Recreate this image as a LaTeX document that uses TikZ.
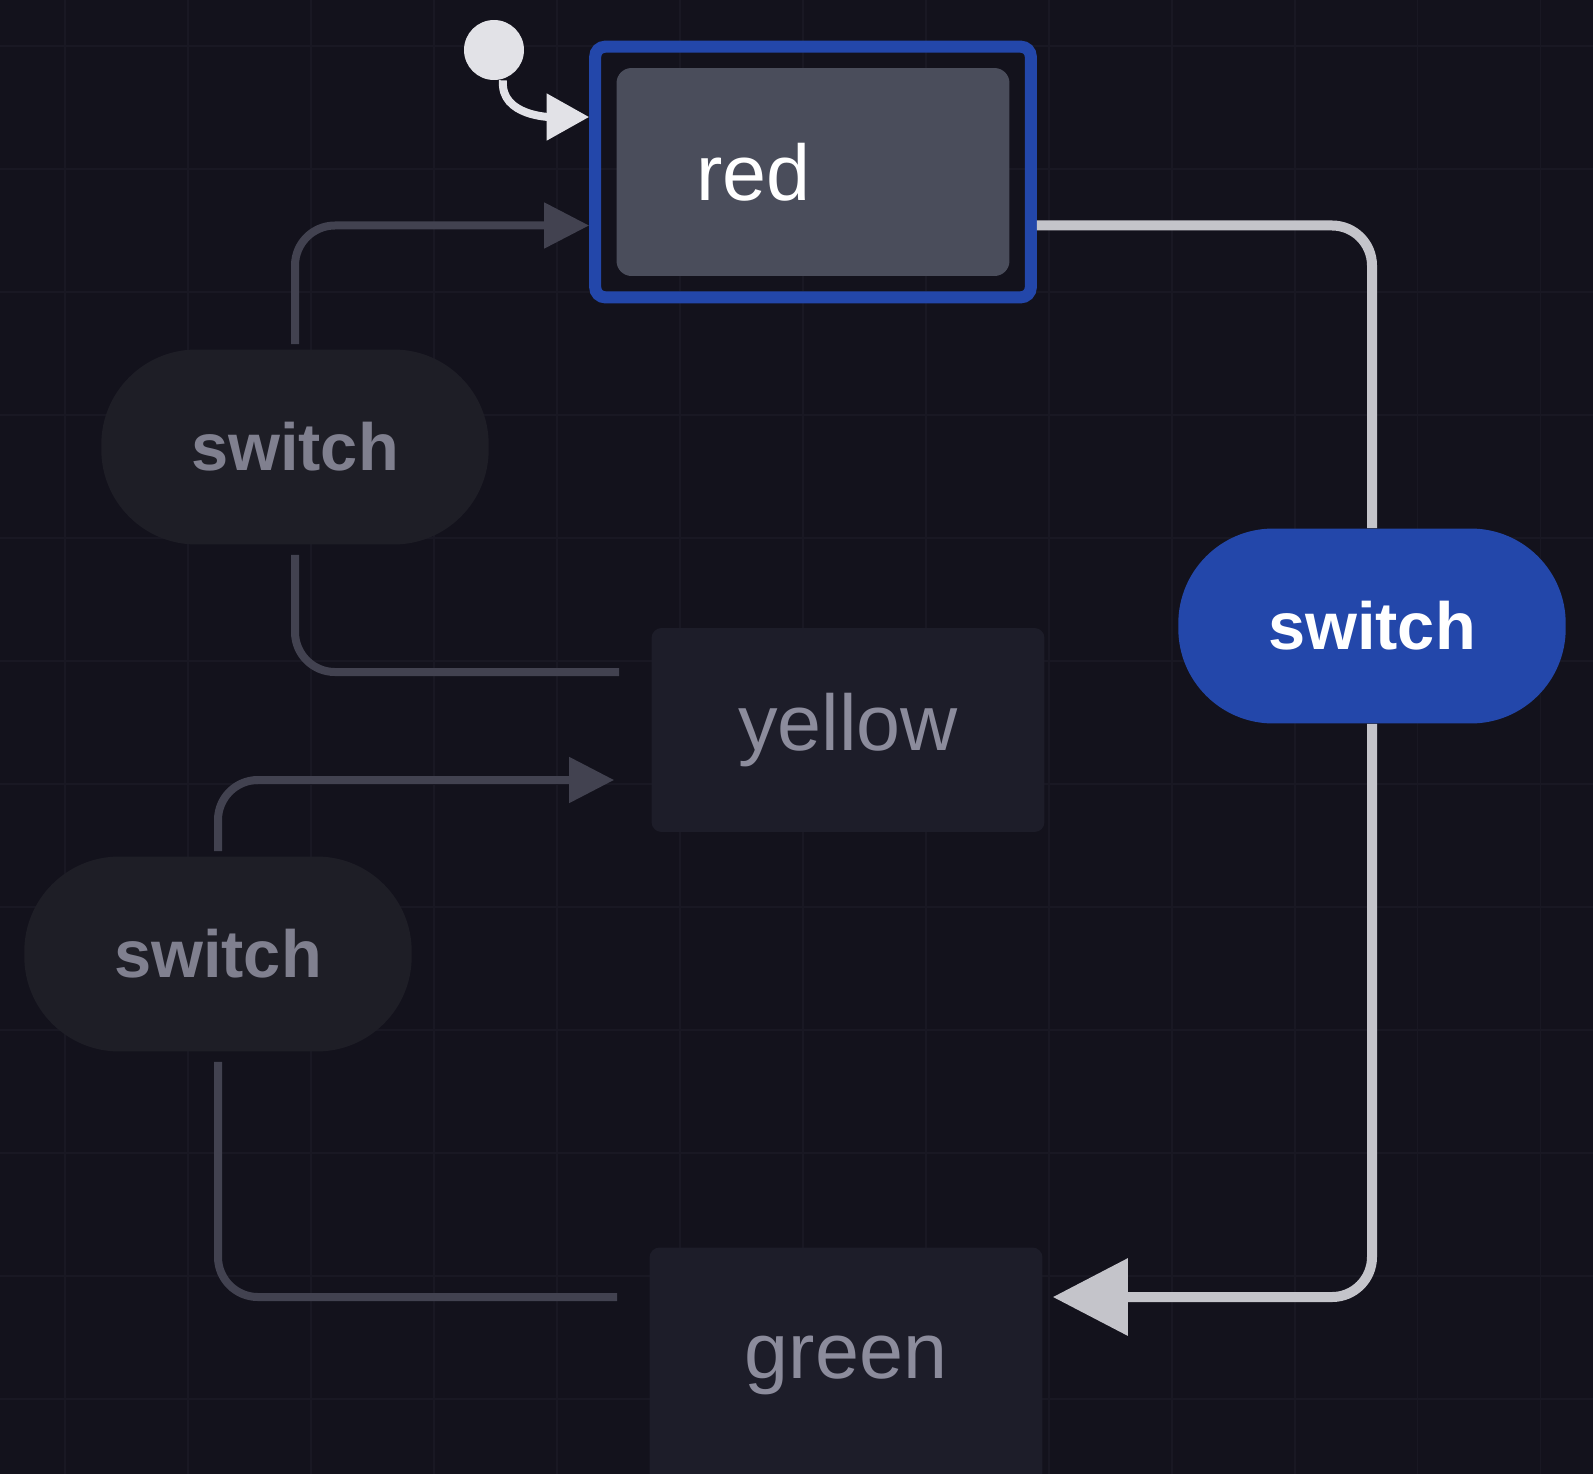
\documentclass[tikz,border=0pt]{standalone}
\usepackage{fontspec}
\setmainfont{Liberation Sans}
\usetikzlibrary{arrows.meta,positioning,fit}

\definecolor{bg}{RGB}{19,18,28}
\definecolor{gridc}{RGB}{25,24,35}
\definecolor{xblue}{RGB}{35,71,170}
\definecolor{redfill}{RGB}{74,77,91}
\definecolor{idlefill}{RGB}{29,29,41}
\definecolor{idletext}{RGB}{140,140,156}
\definecolor{eventfill}{RGB}{30,30,38}
\definecolor{eventtext}{RGB}{128,128,143}
\definecolor{liveline}{RGB}{196,196,202}
\definecolor{dimline}{RGB}{66,66,80}
\definecolor{initfill}{RGB}{226,226,231}

\newcommand{\statefont}{\fontsize{45}{54}\selectfont}
\newcommand{\eventfont}{\fontsize{38}{46}\selectfont\bfseries}

\begin{document}
\begin{tikzpicture}[
    x=0.02cm, y=-0.02cm,
    state/.style={rectangle, rounded corners=0.3cm, minimum width=7.86cm, minimum height=4.08cm, align=center, font=\statefont},
    idle/.style={state, rounded corners=0.2cm, fill=idlefill, text=idletext},
    active/.style={rectangle, draw=xblue, line width=0.24cm, rounded corners=0.2cm},
    event/.style={rectangle, rounded corners=1.9cm, minimum width=7.75cm, minimum height=3.9cm, font=\eventfont},
    live_line/.style={draw=liveline, line width=0.2cm, rounded corners=0.8cm},
    live_arrow/.style={live_line, -{Triangle[length=1.5cm, width=1.5cm]}},
    dim_line/.style={draw=dimline, line width=0.16cm, rounded corners=0.8cm},
    dim_arrow/.style={dim_line, -{Triangle[length=0.9cm, width=0.88cm]}},
    init_arrow/.style={draw=initfill, line width=0.16cm, -{Triangle[length=0.85cm, width=0.9cm]}}
]

\useasboundingbox (0,0) rectangle (1593,1474);
\fill[bg] (0,0) rectangle (1593,1474);
\draw[gridc, line width=0.03cm, step=2.46cm, shift={(65,46)}] (-65,-46) grid (1528,1428);

% States
\node[state, fill=redfill, text=white, text width=4.66cm, align=left, inner xsep=1.6cm, minimum height=4.16cm] (red_box) at (813,172) {red};
\node[active, fit=(red_box), inner sep=0.42cm] (red) {};
\node[idle] (yellow) at (848,730) {yellow};
\node[idle, minimum height=4.7cm] (green) at (846,1365) {green};

% Initial state
\node[circle, fill=initfill, minimum size=1.2cm, inner sep=0pt] (init) at (494,50) {};
\draw[init_arrow] ([xshift=0.18cm]init.south) to[out=-95, in=180] ([yshift=1.1cm]red.west);

% Events
\node[event, fill=xblue, text=white] (red_switch) at (1372,626) {switch};
\node[event, fill=eventfill, text=eventtext] (yellow_switch) at (295,447) {switch};
\node[event, fill=eventfill, text=eventtext] (green_switch) at (218,954) {switch};

% Live transition
\draw[live_line] ([yshift=-1.07cm]red.east) -| (red_switch.north);
\draw[live_arrow] (red_switch.south) |- ([xshift=0.2cm, yshift=1.36cm]green.east);

% Other transitions
\draw[dim_line] ([xshift=-0.64cm, yshift=1.16cm]yellow.west) -| ([yshift=-0.2cm]yellow_switch.south);
\draw[dim_arrow] ([yshift=0.1cm]yellow_switch.north) |- ([yshift=-1.07cm]red.west);
\draw[dim_line] ([xshift=-0.64cm, yshift=1.36cm]green.west) -| ([yshift=-0.2cm]green_switch.south);
\draw[dim_arrow] ([yshift=0.1cm]green_switch.north) |- ([xshift=-0.74cm, yshift=-1cm]yellow.west);

\end{tikzpicture}
\end{document}
